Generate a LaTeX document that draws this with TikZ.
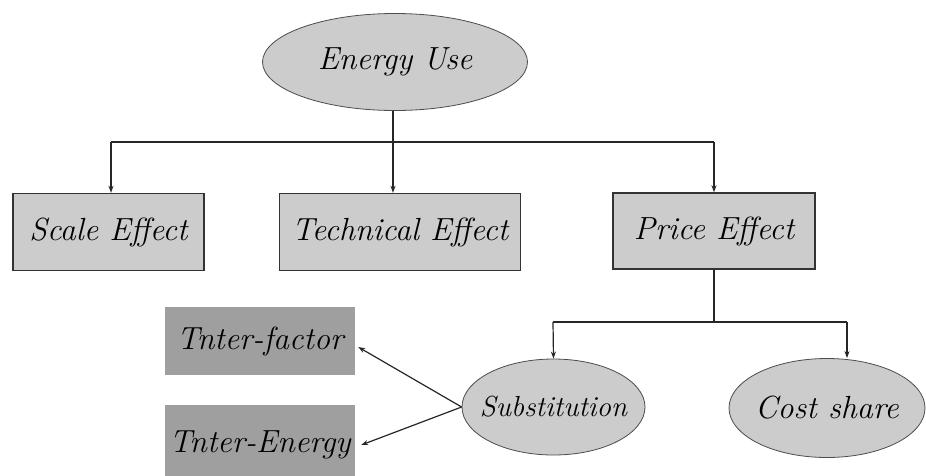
\documentclass[tikz,border=0pt]{standalone}
\usetikzlibrary{shapes.geometric,arrows.meta}
\begin{document}
\begin{tikzpicture}[x=1pt,y=-1pt,
  lbl/.style={font=\fontsize{32}{34}\selectfont\itshape, text=black, inner sep=0pt},
  slbl/.style={lbl, font=\fontsize{29}{31}\selectfont\itshape},
  ell/.style={ellipse, draw=black!70, line width=0.8pt, fill=gray!40, inner sep=0pt},
  box/.style={lbl, rectangle, draw=black!80, line width=1.4pt, fill=gray!40},
  dbox/.style={lbl, rectangle, fill=gray!75},
  conn/.style={line width=1.2pt, draw=black!85},
  arr/.style={conn, -{Stealth[length=7pt,width=5pt]}}]
\clip (0,0) rectangle (926,475);
\useasboundingbox (0,0) rectangle (926,475);
\node[ell, minimum width=265, minimum height=97, label={[lbl]center:Energy Use}] (eu) at (395,62) {};
\node[box, minimum width=191, minimum height=77] (scale) at (108.5,232) {Scale Effect};
\node[box, minimum width=241, minimum height=77] (tech) at (400,232) {Technical Effect};
\node[box, minimum width=202, minimum height=76] (price) at (714,231) {Price Effect};
\node[ell, minimum width=183, minimum height=96, label={[slbl]center:Substitution}] (subst) at (553.5,407) {};
\node[ell, minimum width=196, minimum height=99, label={[lbl]center:Cost share}] (cost) at (827,408) {};
\node[dbox, minimum width=190, minimum height=68] (ifac) at (260,341) {Tnter-factor};
\node[dbox, minimum width=190, minimum height=80] (iene) at (260,445) {Tnter-Energy};
\coordinate (hl) at (111,142);
\coordinate (hr) at (714,142);
\coordinate (hm) at (393,142);
\coordinate (ll) at (553,322);
\coordinate (lr) at (847,322);
\draw[conn] (hl) -- (hr);
\draw[conn] (eu.south -| hm) -- (hm);
\draw[arr] (hl) -- (hl |- scale.north);
\draw[arr] (hm) -- (hm |- tech.north);
\draw[arr] (hr) -- (hr |- price.north);
\draw[conn] (ll) -- (lr);
\draw[conn] (price.south) -- (price.south |- ll);
\draw[arr] (ll) -- (subst.north);
\draw[arr] (lr) -- (lr |- cost.north);
\draw[arr] (subst.west) -- ([shift={(3,6)}]ifac.east);
\draw[arr] (subst.west) -- ([shift={(6,0)}]iene.east);
\end{tikzpicture}
\end{document}
